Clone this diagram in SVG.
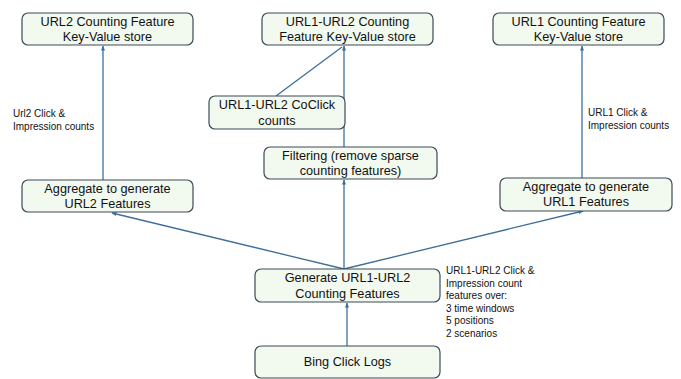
<svg xmlns="http://www.w3.org/2000/svg" width="681" height="379" viewBox="0 0 681 379">
<defs>
<style>
.box{fill:#f2f9ef;stroke:#3d4a58;stroke-width:1.2}
.t{font-family:"Liberation Sans",Arial,sans-serif;font-size:12.7px;fill:#111;text-anchor:middle}
.s{font-family:"Liberation Sans",Arial,sans-serif;font-size:10px;fill:#111}
.c{stroke:#3e6f98;stroke-width:1.3;fill:none}
.ca{stroke:#3e6f98;stroke-width:1.3;fill:none;marker-end:url(#ah)}
</style>
<marker id="ah" viewBox="0 0 10 10" refX="9" refY="5" markerWidth="5" markerHeight="5" orient="auto-start-reverse" markerUnits="userSpaceOnUse">
<path d="M0,1 L10,5 L0,9 z" fill="#3e6f98"/>
</marker>
</defs>
<rect width="681" height="379" fill="#fff"/>
<g id="connectors">
<line class="ca" x1="103" y1="180" x2="103" y2="46"/>
<line class="ca" x1="582" y1="178" x2="582" y2="46"/>
<line class="ca" x1="344" y1="147" x2="344" y2="46"/>
<line class="c" x1="276" y1="96" x2="342" y2="47"/>
<line class="ca" x1="344" y1="269" x2="344" y2="180"/>
<line class="ca" x1="344" y1="269" x2="112" y2="213"/>
<line class="ca" x1="344" y1="269" x2="583" y2="211"/>
<line class="ca" x1="347" y1="346" x2="347" y2="303"/>
</g>
<g id="n_url2kv"><rect class="box" x="22" y="13" width="171" height="32" rx="6"/><text class="t" x="107.5" y="26">URL2 Counting Feature</text><text class="t" x="107.5" y="40.5">Key-Value store</text></g>
<g id="n_pairkv"><rect class="box" x="262" y="13" width="171" height="32" rx="6"/><text class="t" x="347.5" y="26">URL1-URL2 Counting</text><text class="t" x="347.5" y="40.5">Feature Key-Value store</text></g>
<g id="n_url1kv"><rect class="box" x="493" y="13" width="171" height="32" rx="6"/><text class="t" x="578.5" y="26">URL1 Counting Feature</text><text class="t" x="578.5" y="40.5">Key-Value store</text></g>
<g id="n_coclick"><rect class="box" x="209" y="96" width="136" height="33" rx="6"/><text class="t" x="277" y="109">URL1-URL2 CoClick</text><text class="t" x="277" y="124.5">counts</text></g>
<g id="n_filter"><rect class="box" x="264" y="147" width="173" height="32" rx="6"/><text class="t" x="350.5" y="160">Filtering (remove sparse</text><text class="t" x="350.5" y="175">counting features)</text></g>
<g id="n_agg2"><rect class="box" x="22" y="180" width="171" height="32" rx="6"/><text class="t" x="107.5" y="193">Aggregate to generate</text><text class="t" x="107.5" y="208">URL2 Features</text></g>
<g id="n_agg1"><rect class="box" x="500" y="178" width="172" height="33" rx="6"/><text class="t" x="586" y="191">Aggregate to generate</text><text class="t" x="586" y="206">URL1 Features</text></g>
<g id="n_gen"><rect class="box" x="255" y="269" width="185" height="33" rx="6"/><text class="t" x="347.5" y="282">Generate URL1-URL2</text><text class="t" x="347.5" y="297.5">Counting Features</text></g>
<g id="n_bing"><rect class="box" x="255" y="346" width="185" height="32" rx="6"/><text class="t" x="347.5" y="366">Bing Click Logs</text></g>
<g id="labels">
<text class="s" x="13" y="117">Url2 Click &amp;</text>
<text class="s" x="13" y="130">Impression counts</text>
<text class="s" x="588" y="116">URL1 Click &amp;</text>
<text class="s" x="588" y="129">Impression counts</text>
<text class="s" x="446" y="274">URL1-URL2 Click &amp;</text>
<text class="s" x="446" y="286.5">Impression count</text>
<text class="s" x="446" y="299">features over:</text>
<text class="s" x="446" y="311.5">3 time windows</text>
<text class="s" x="446" y="324">5 positions</text>
<text class="s" x="446" y="336.5">2 scenarios</text>
</g>
</svg>
